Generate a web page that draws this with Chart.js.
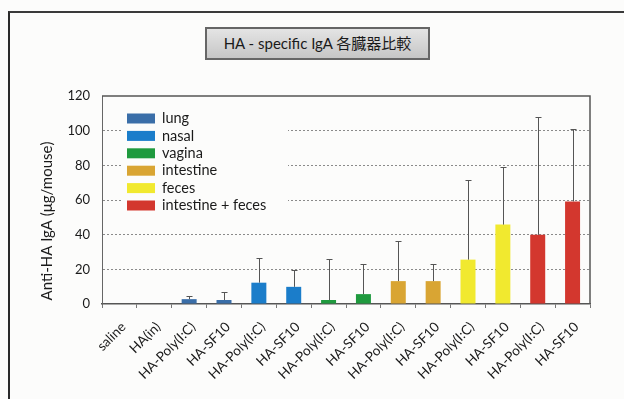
<!DOCTYPE html>
<html>
<head>
<meta charset="utf-8">
<script src="https://cdn.jsdelivr.net/npm/chart.js@4/dist/chart.umd.min.js"></script>
<style>
html,body{margin:0;padding:0;background:#fcfcfb;}
#wrap{position:relative;width:624px;height:399px;overflow:hidden;}
#frame{position:absolute;left:8px;top:11px;width:640px;height:420px;border-left:2px solid #2a2a2a;border-top:2px solid #3a3a3a;}
#title{position:absolute;left:205px;top:27px;width:221px;height:29px;border:2px solid #666;
background:linear-gradient(#e4e4e4,#c6c6c6);font-family:Lato,"Noto Sans CJK JP",sans-serif;font-size:15px;color:#1a1a1a;
line-height:29px;text-align:center;box-sizing:content-box;}
canvas{position:absolute;left:0;top:0;}
</style>
</head>
<body>
<div id="wrap">
<div id="frame"></div>
<canvas id="c" width="624" height="399"></canvas>
<div id="title">HA - specific IgA 各臓器比較</div>
</div>
<script>
const categories = ['saline','HA(in)','HA-Poly(I:C)','HA-SF10','HA-Poly(I:C)','HA-SF10','HA-Poly(I:C)','HA-SF10','HA-Poly(I:C)','HA-SF10','HA-Poly(I:C)','HA-SF10','HA-Poly(I:C)','HA-SF10'];
const groups = ['lung','nasal','vagina','intestine','feces','intestine + feces'];
const groupColors = ['#3a6ea8','#1b7dca','#1f9a3e','#d9a533','#f1e92f','#d3372e'];
const means  = [0, 0.3, 2.8, 2.3, 12.3, 9.9, 2.3, 5.7, 13.2, 13.2, 25.6, 45.8, 39.9, 59.2];
const errTop = [null, null, 4.8, 6.7, 26.5, 19.9, 26.2, 22.9, 36.3, 22.9, 71.8, 79.1, 107.9, 100.7];
const yTicks = [0, 20, 40, 60, 80, 100, 120];
const yTitle = 'Anti-HA IgA (μg/mouse)';

function groupOf(i){ return i < 2 ? -1 : Math.floor((i - 2) / 2); }

const datasets = [{
  label: 'control',
  data: means.map((v,i)=> groupOf(i) === -1 ? v : null),
  backgroundColor: '#555'
}].concat(groups.map((g,gi)=>({
  label: g,
  data: means.map((v,i)=> groupOf(i) === gi ? v : null),
  backgroundColor: groupColors[gi]
})));

const font = 'Lato, "Open Sans", sans-serif';

const extras = {
  id: 'extras',
  afterDatasetsDraw(chart){
    const ctx = chart.ctx, x = chart.scales.x, y = chart.scales.y, a = chart.chartArea;
    ctx.save();
    // error bars
    ctx.strokeStyle = '#555'; ctx.lineWidth = 1;
    errTop.forEach((e,i)=>{
      if (e == null) return;
      const px = Math.round(x.getPixelForValue(i)) + 0.5;
      const y1 = y.getPixelForValue(means[i]);
      const y2 = Math.round(y.getPixelForValue(e)) + 0.5;
      ctx.beginPath();
      ctx.moveTo(px, y1); ctx.lineTo(px, y2);
      ctx.moveTo(px - 3, y2); ctx.lineTo(px + 3, y2);
      ctx.stroke();
    });
    // plot frame top & right
    ctx.strokeStyle = '#555'; ctx.lineWidth = 1.5;
    ctx.beginPath();
    ctx.moveTo(a.left, a.top); ctx.lineTo(a.right, a.top); ctx.lineTo(a.right, a.bottom);
    ctx.stroke();
    // legend (with white background box)
    ctx.fillStyle = '#fcfcfb';
    ctx.fillRect(121, 108, 167, 107);
    ctx.font = '14.5px ' + font; ctx.textBaseline = 'middle';
    groups.forEach((g,gi)=>{
      const cy = 118.5 + gi * 17.4;
      ctx.fillStyle = groupColors[gi];
      ctx.fillRect(127, cy - 5, 28, 10);
      ctx.fillStyle = '#1a1a1a';
      ctx.fillText(g, 162, cy);
    });
    // y title
    ctx.translate(47, 221); ctx.rotate(-Math.PI/2);
    ctx.textAlign = 'center'; ctx.font = '15px ' + font; ctx.fillStyle = '#1a1a1a';
    ctx.fillText(yTitle, 0, 0);
    ctx.restore();
  }
};

new Chart(document.getElementById('c'), {
  type: 'bar',
  data: { labels: categories, datasets },
  plugins: [extras],
  options: {
    responsive: false, animation: false,
    layout: { padding: { left: 0, top: 96, right: 34, bottom: 0 } },
    plugins: { legend: { display: false }, tooltip: { enabled: false }, title: { display: false } },
    datasets: { bar: { categoryPercentage: 1, barPercentage: 0.43 } },
    scales: {
      x: {
        stacked: true,
        afterFit(s){ s.height = 95; },
        grid: { offset: true, drawOnChartArea: false, drawTicks: true, tickLength: 4, color: '#777' },
        border: { display: true, color: '#555', width: 1.5 },
        ticks: { minRotation: 45, maxRotation: 45, autoSkip: false, labelOffset: 4, font: { family: font, size: 13.5 }, color: '#1a1a1a', padding: 11 }
      },
      y: {
        stacked: true, min: 0, max: 120,
        afterFit(s){ s.width = 102; },
        afterBuildTicks(s){ s.ticks = yTicks.map(v=>({value:v})); },
        grid: { drawTicks: false, color: c => (c.tick.value === 0 || c.tick.value === 120) ? 'rgba(0,0,0,0)' : '#8a8a8a', lineWidth: 1 },
        border: { display: true, color: '#666', width: 1, dash: [2, 2] },
        ticks: { font: { family: font, size: 13 }, color: '#1a1a1a', padding: 12 }
      }
    }
  }
});
</script>
</body>
</html>
